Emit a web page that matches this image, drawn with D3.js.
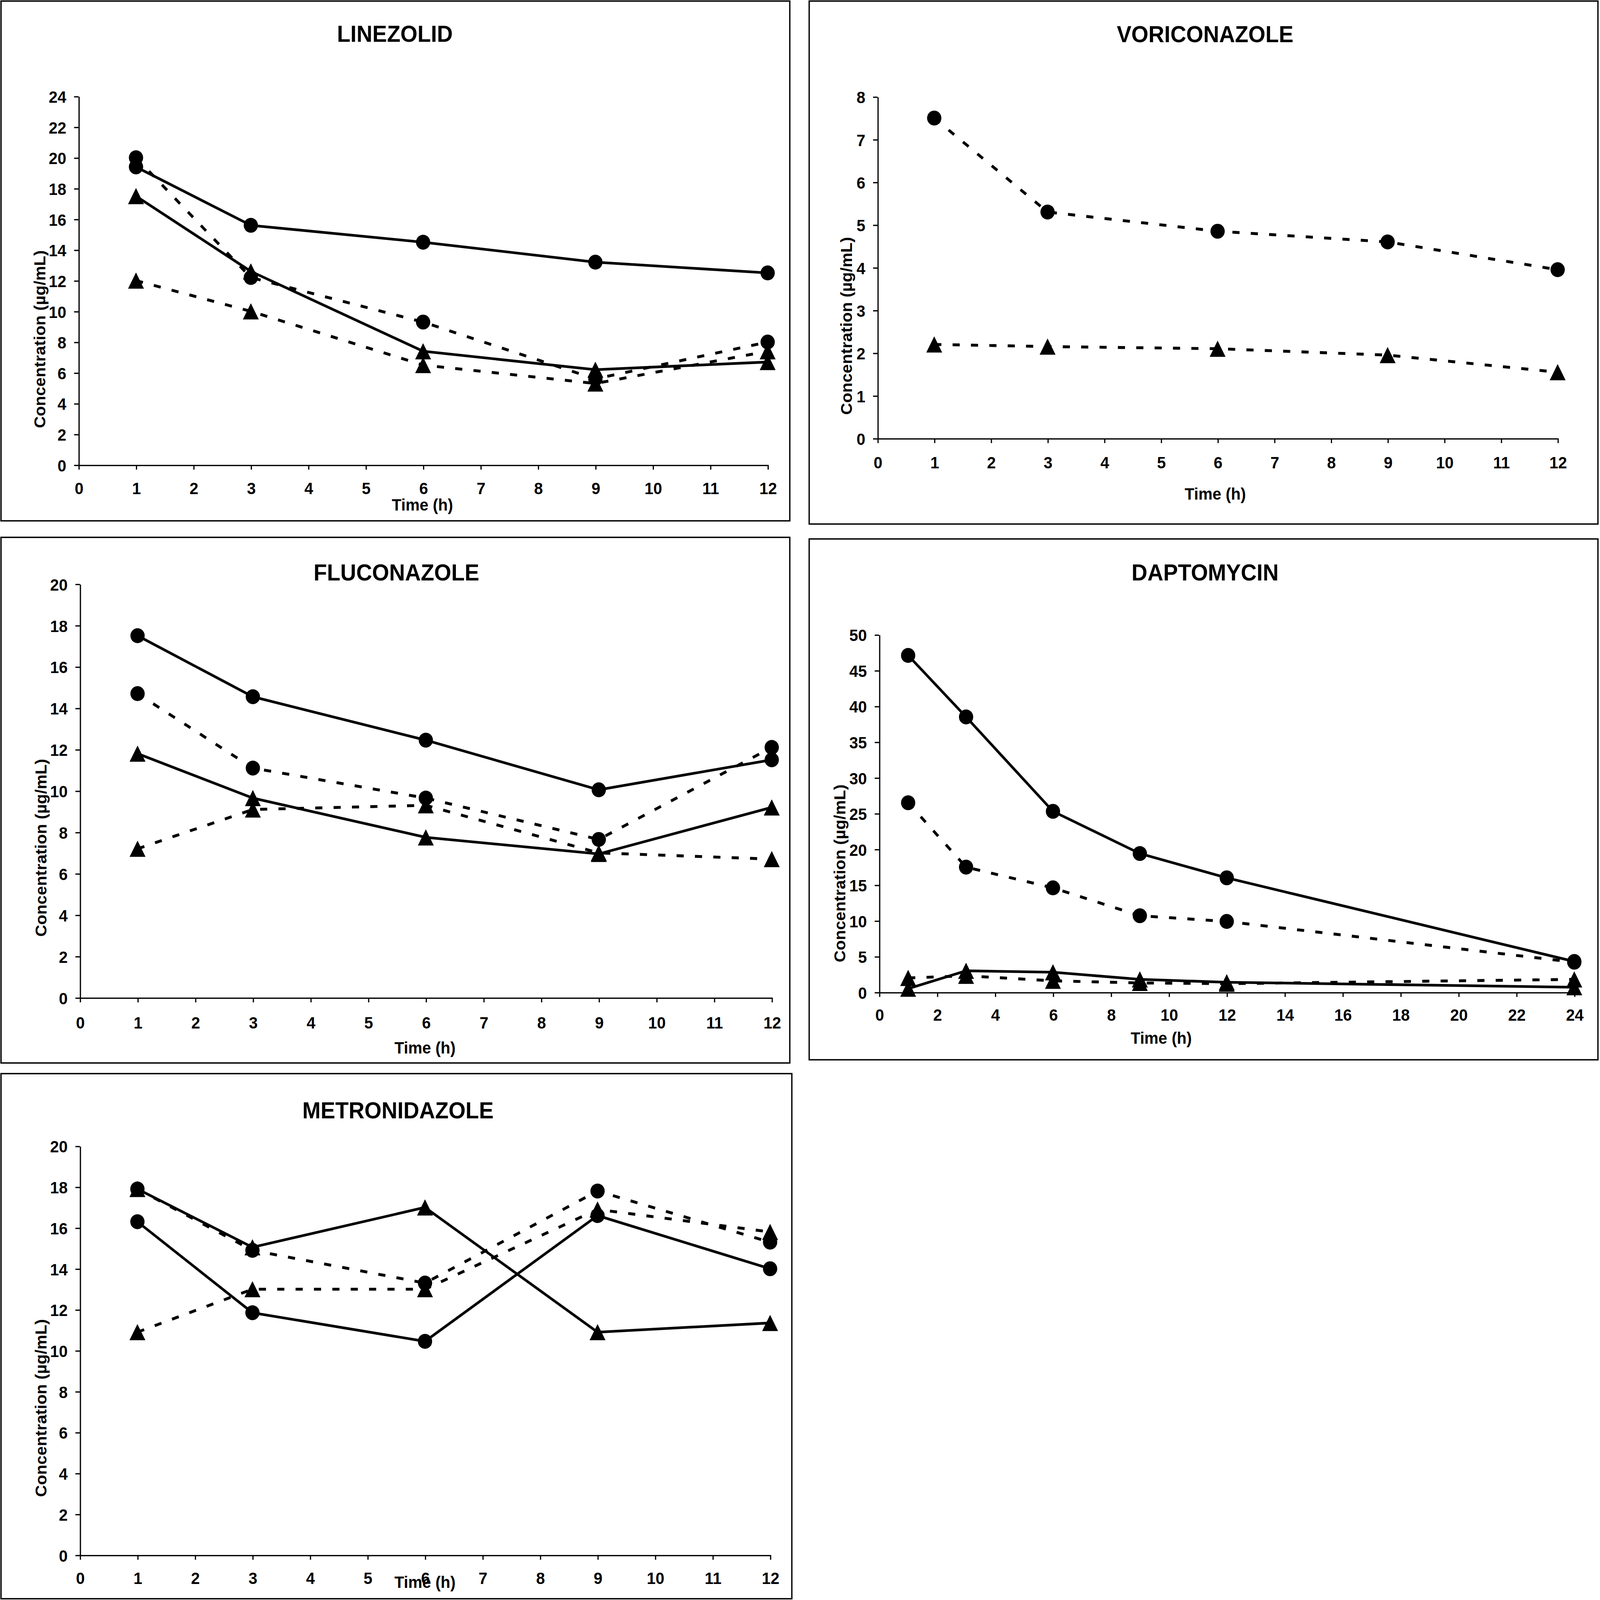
<!DOCTYPE html>
<html>
<head>
<meta charset="utf-8">
<script src="https://cdn.jsdelivr.net/npm/d3@7"></script>
<style>
  html, body { margin: 0; padding: 0; background: #fff; overflow: hidden; }
  svg { display: block; }
  text { font-family: "Liberation Sans", Arial, sans-serif; font-weight: bold; fill: #000; }
</style>
</head>
<body>
<script>
// sampling times (h) -------------------------------
var hours12 = [1, 3, 6, 9, 12];
var hours24 = [1, 3, 6, 9, 12, 24];

// concentrations (ug/mL)
// sc = solid line + circles, dc = dashed + circles, st = solid + triangles, dt = dashed + triangles
var linezolidSC = [19.4, 15.6, 14.5, 13.2, 12.5];
var linezolidDC = [20.0, 12.2, 9.3, 5.6, 8.0];
var linezolidST = [17.5, 12.6, 7.4, 6.2, 6.7];
var linezolidDT = [12.0, 10.0, 6.5, 5.3, 7.4];

var voriconazoleDC = [7.5, 5.3, 4.85, 4.6, 3.95];
var voriconazoleDT = [2.2, 2.15, 2.1, 1.95, 1.55];

var fluconazoleSC = [17.5, 14.55, 12.45, 10.05, 11.5];
var fluconazoleDC = [14.7, 11.1, 9.65, 7.65, 12.1];
var fluconazoleST = [11.8, 9.65, 7.75, 6.95, 9.2];
var fluconazoleDT = [7.2, 9.1, 9.3, 7.0, 6.7];

var daptomycinSC = [47.1, 38.5, 25.3, 19.4, 16.0, 4.3];
var daptomycinDC = [26.5, 17.5, 14.6, 10.7, 9.9, 4.2];
var daptomycinST = [0.5, 3.0, 2.8, 1.8, 1.4, 0.7];
var daptomycinDT = [2.0, 2.3, 1.6, 1.3, 1.2, 1.8];

var metronidazoleSC = [16.3, 11.85, 10.45, 16.6, 14.0];
var metronidazoleDC = [17.9, 14.9, 13.3, 17.8, 15.3];
var metronidazoleST = [17.9, 15.05, 17.0, 10.9, 11.35];
var metronidazoleDT = [10.9, 13.0, 13.0, 16.9, 15.8];

// axis ticks
var xTicks12 = d3.range(0, 13, 1);
var xTicks24 = d3.range(0, 25, 2);
var yTicksLinezolid = d3.range(0, 25, 2);
var yTicksVoriconazole = d3.range(0, 9, 1);
var yTicksFluconazole = d3.range(0, 21, 2);
var yTicksDaptomycin = d3.range(0, 51, 5);
var yTicksMetronidazole = d3.range(0, 21, 2);

var yLabel = 'Concentration (\u00b5g/mL)';
var xLabel = 'Time (h)';

// layout, in units of a 1568 wide drawing ---------
var panels = [
  { title: 'LINEZOLID', hours: hours12, xTicks: xTicks12, yTicks: yTicksLinezolid,
    series: [[linezolidSC, 'solid', 'circle'], [linezolidDC, 'dash', 'circle'],
             [linezolidST, 'solid', 'tri'], [linezolidDT, 'dash', 'tri']],
    frame: [1, 1, 774, 489], xr: [77, 752.3], yr: [436.5, 90.4],
    titlePos: [387, 39.3], tickBase: 27.5, timePos: [414, 479.5], yLabPos: [39, 318.5] },
  { title: 'VORICONAZOLE', hours: hours12, xTicks: xTicks12, yTicks: yTicksVoriconazole,
    series: [[voriconazoleDC, 'dash', 'circle'], [voriconazoleDT, 'dash', 'tri']],
    frame: [793, 1, 1566, 492], xr: [860, 1526.5], yr: [411.6, 90.8],
    titlePos: [1181, 39.7], tickBase: 28, timePos: [1191, 469], yLabPos: [829.5, 306] },
  { title: 'FLUCONAZOLE', hours: hours12, xTicks: xTicks12, yTicks: yTicksFluconazole,
    series: [[fluconazoleSC, 'solid', 'circle'], [fluconazoleDC, 'dash', 'circle'],
             [fluconazoleST, 'solid', 'tri'], [fluconazoleDT, 'dash', 'tri']],
    frame: [1, 504.5, 774, 998], xr: [78.3, 756.3], yr: [936.7, 548.3],
    titlePos: [388.5, 545], tickBase: 28.8, timePos: [416.5, 989], yLabPos: [40, 796] },
  { title: 'DAPTOMYCIN', hours: hours24, xTicks: xTicks24, yTicks: yTicksDaptomycin,
    series: [[daptomycinSC, 'solid', 'circle'], [daptomycinDC, 'dash', 'circle'],
             [daptomycinST, 'solid', 'tri'], [daptomycinDT, 'dash', 'tri']],
    frame: [793, 506, 1566, 995], xr: [861.6, 1542.8], yr: [931.6, 595.9],
    titlePos: [1181, 545], tickBase: 26.7, timePos: [1138, 980], yLabPos: [823, 820] },
  { title: 'METRONIDAZOLE', hours: hours12, xTicks: xTicks12, yTicks: yTicksMetronidazole,
    series: [[metronidazoleSC, 'solid', 'circle'], [metronidazoleDC, 'dash', 'circle'],
             [metronidazoleST, 'solid', 'tri'], [metronidazoleDT, 'dash', 'tri']],
    frame: [1, 1008, 776, 1501], xr: [78.3, 754.7], yr: [1460, 1076],
    titlePos: [390, 1050], tickBase: 27, timePos: [416.5, 1491], yLabPos: [40, 1322] }
];

// fill whatever the window really is
var vw = window.innerWidth || 6050;
var vh = window.innerHeight || 5796;

var svg = d3.select('body').append('svg')
  .attr('width', vw)
  .attr('height', vh)
  .attr('viewBox', '0 0 1568 1502.2')
  .attr('preserveAspectRatio', 'none');

svg.append('rect').attr('width', 1568).attr('height', 1502.2).attr('fill', '#fff');

// triangle marker centred on its bounding box
var triangle = function(cx, cy) {
  var w = 7.8, h = 7.6;
  return 'M' + cx + ',' + (cy - h) + 'L' + (cx + w) + ',' + (cy + h) + 'L' + (cx - w) + ',' + (cy + h) + 'Z';
};

var drawPanel = function(p) {
  var g = svg.append('g');
  var f = p.frame;

  g.append('rect')
    .attr('x', f[0]).attr('y', f[1])
    .attr('width', f[2] - f[0]).attr('height', f[3] - f[1])
    .attr('fill', 'none').attr('stroke', '#000').attr('stroke-width', 1.3);

  var xMax = p.xTicks[p.xTicks.length - 1];
  var yMax = p.yTicks[p.yTicks.length - 1];
  var x = d3.scaleLinear().domain([0, xMax]).range(p.xr);
  var y = d3.scaleLinear().domain([0, yMax]).range(p.yr);

  // axes
  var xAxis = g.append('g')
    .attr('transform', 'translate(0,' + p.yr[0] + ')')
    .call(d3.axisBottom(x).tickValues(p.xTicks).tickSize(4.4).tickSizeOuter(0).tickFormat(d3.format('d')));
  var yAxis = g.append('g')
    .attr('transform', 'translate(' + p.xr[0] + ',0)')
    .call(d3.axisLeft(y).tickValues(p.yTicks).tickSize(4.4).tickSizeOuter(0).tickFormat(d3.format('d')));

  [xAxis, yAxis].forEach(function(a) {
    a.select('.domain').attr('stroke', '#000').attr('stroke-width', 1.2);
    a.selectAll('.tick line').attr('stroke', '#000').attr('stroke-width', 1.2);
    a.selectAll('.tick text')
      .attr('font-family', '"Liberation Sans", Arial, sans-serif')
      .attr('font-weight', 'bold')
      .attr('font-size', 15.5)
      .attr('fill', '#000');
  });
  xAxis.selectAll('.tick text').attr('dy', null).attr('y', p.tickBase);
  yAxis.selectAll('.tick text').attr('x', -12).attr('dy', '0.36em');

  // lines
  var line = d3.line()
    .x(function(d) { return x(d[0]); })
    .y(function(d) { return y(d[1]); });

  p.series.forEach(function(s) {
    var pts = p.hours.map(function(h, i) { return [h, s[0][i]]; });
    g.append('path')
      .attr('d', line(pts))
      .attr('fill', 'none')
      .attr('stroke', '#000')
      .attr('stroke-width', s[1] === 'dash' ? 2.7 : 2.5)
      .attr('stroke-dasharray', s[1] === 'dash' ? '7,11' : null)
      .attr('stroke-linejoin', 'round');
  });

  // markers
  p.series.forEach(function(s) {
    var pts = p.hours.map(function(h, i) { return [h, s[0][i]]; });
    if (s[2] === 'circle') {
      g.selectAll(null).data(pts).enter().append('circle')
        .attr('cx', function(d) { return x(d[0]); })
        .attr('cy', function(d) { return y(d[1]); })
        .attr('r', 7)
        .attr('fill', '#000');
    } else {
      g.selectAll(null).data(pts).enter().append('path')
        .attr('d', function(d) { return triangle(x(d[0]), y(d[1])); })
        .attr('fill', '#000');
    }
  });

  // texts
  g.append('text')
    .attr('x', p.titlePos[0]).attr('y', p.titlePos[1])
    .attr('text-anchor', 'middle')
    .attr('font-size', 21.5)
    .text(p.title);

  g.append('text')
    .attr('x', p.timePos[0]).attr('y', p.timePos[1])
    .attr('text-anchor', 'middle')
    .attr('font-size', 15.5)
    .text(xLabel);

  g.append('text')
    .attr('transform', 'translate(' + p.yLabPos[0] + ',' + p.yLabPos[1] + ') rotate(-90)')
    .attr('text-anchor', 'middle')
    .attr('dy', '0.35em')
    .attr('font-size', 15.5)
    .attr('textLength', 167)
    .attr('lengthAdjust', 'spacing')
    .text(yLabel);
};

panels.forEach(drawPanel);
</script>
</body>
</html>
